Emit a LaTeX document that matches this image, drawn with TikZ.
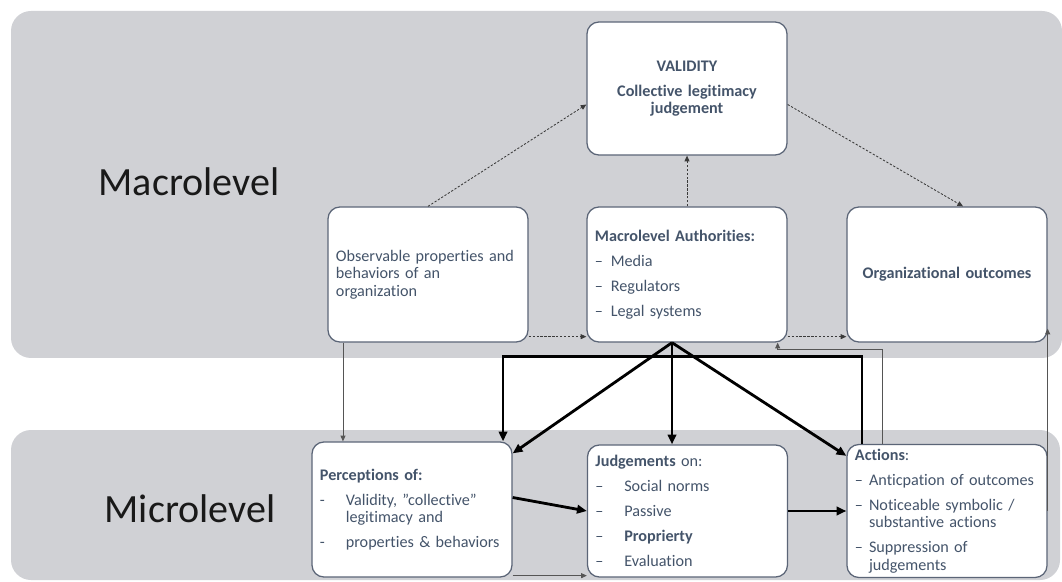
\documentclass[tikz,border=0pt]{standalone}
\usepackage{fontspec}
\setmainfont{Carlito}[Ligatures={NoCommon,NoContextual}, Contextuals=NoAlternate]
\usepackage{xcolor}
\usetikzlibrary{arrows.meta}

\definecolor{bandgray}{HTML}{D0D1D5}
\definecolor{boxtext}{HTML}{44546A}
\definecolor{boxline}{HTML}{5B6577}
\definecolor{hintgray}{HTML}{3A3A3A}
\definecolor{linkgray}{HTML}{555555}

\newcommand{\itemlead}[2][11.3pt]{\makebox[#1][l]{#2}}

\begin{document}
\begin{tikzpicture}[x=0.025cm, y=-0.025cm,
  >={Triangle[length=4pt,width=3.5pt]},
  box/.style={draw=boxline, line width=0.9pt, fill=white, rounded corners=0.3cm,
    minimum width=5cm, minimum height=3.375cm, text width=4.6cm, inner xsep=0.2cm,
    align=left, text=boxtext, font=\fontsize{11.5}{12.4}\selectfont},
  level/.style={text=black!90, font=\fontsize{28.5}{30}\selectfont},
  hint/.style={hintgray, line width=0.6pt, dash pattern=on 1.6pt off 1.2pt},
  link/.style={linkgray, line width=0.6pt},
  strong/.style={black, line width=2pt, >={Triangle[length=7pt,width=6pt]}}]
  \useasboundingbox (0,0) rectangle (1062,582);

  % levels
  \fill[bandgray, rounded corners=0.5cm] (11,11) rectangle (1062,358);
  \fill[bandgray, rounded corners=0.5cm] (11,430) rectangle (1060,580);
  \node[level] (macro) at (189,182) {Macrolevel};
  \node[level] (micro) at (190,509) {Microlevel};

  % macro level
  \node[box, align=center, minimum height=3.325cm] (val) at (687,88.5)
    {\textbf{VALIDITY}\\[5.3pt]\textbf{Collective legitimacy}\\\textbf{judgement}};
  \node[box] (obs) at (428,274.5)
    {Observable properties and\\behaviors of an\\organization};
  \node[box] (auth) at (687,274.5)
    {\textbf{Macrolevel Authorities:}\\[5.3pt]
     \itemlead{--}Media\\[5.3pt]
     \itemlead{--}Regulators\\[5.3pt]
     \itemlead{--}Legal systems};
  \node[box, align=center] (out) at (947,274.5) {\textbf{Organizational outcomes}};

  % micro level
  \node[box] (perc) at (412,509.5)
    {\textbf{Perceptions of:}\\[5.3pt]
     \itemlead[18.4pt]{-}Validity, ”collective”\\
     \hspace*{18.4pt}legitimacy and\\[5.3pt]
     \itemlead[18.4pt]{-}properties \& behaviors};
  \node[box, minimum height=3.3cm] (judg) at (687.5,511)
    {\textbf{Judgements} on:\\[5.3pt]
     \itemlead[20.5pt]{--}Social norms\\[5.3pt]
     \itemlead[20.5pt]{--}Passive\\[5.3pt]
     \itemlead[20.5pt]{--}\textbf{Proprierty}\\[5.3pt]
     \itemlead[20.5pt]{--}Evaluation};
  \node[box, minimum height=3.3cm] (act) at (947,511)
    {\textbf{Actions}:\\[5.3pt]
     \itemlead[10pt]{--}Anticpation of outcomes\\[5.3pt]
     \itemlead[10pt]{--}Noticeable symbolic /\\
     \hspace*{10pt}substantive actions\\[5.3pt]
     \itemlead[10pt]{--}Suppression of\\
     \hspace*{10pt}judgements};

  % dotted links
  \draw[hint, ->] (obs.north) -- ([yshift=-0.4cm]val.west);
  \draw[hint, ->] (auth.north) -- (val.south);
  \draw[hint, ->] ([yshift=-0.4cm]val.east) -- ([xshift=0.4cm]out.north);
  \draw[hint, ->] ([yshift=0.15cm]obs.south east) -- ([yshift=0.15cm]auth.south west);
  \draw[hint, ->] ([yshift=0.15cm]auth.south east) -- ([yshift=0.15cm]out.south west);

  % thin links
  \draw[link, ->] ([xshift=-2.125cm]obs.south) coordinate (o1) -- (o1 |- perc.north);
  \draw[link, ->] ([yshift=0.05cm]perc.south east) coordinate (p1) -- (p1 -| judg.west);
  \draw[link, ->] ([xshift=-1.625cm]act.north)
    |- ([xshift=-0.25cm,yshift=-0.175cm]auth.south east) -- ([xshift=-0.25cm]auth.south east);
  \draw[link, ->] (act.east) -- ([yshift=0.35cm]out.south east);

  % strong links
  \draw[strong, ->] ([xshift=-0.375cm]auth.south) coordinate (a1) -- ([yshift=-0.3cm]perc.north east);
  \draw[strong, ->] (a1) -- (a1 |- judg.north);
  \draw[strong, ->] (a1) -- ([yshift=-0.3cm]act.north west);
  \draw[strong, ->] ([yshift=0.3cm]perc.east) -- (judg.west);
  \draw[strong, ->] (judg.east) -- (act.west);
  \draw[strong, ->] ([xshift=-2.125cm]act.north) -- ++(0,-87) -| ([xshift=2.275cm]perc.north);

\end{tikzpicture}
\end{document}
